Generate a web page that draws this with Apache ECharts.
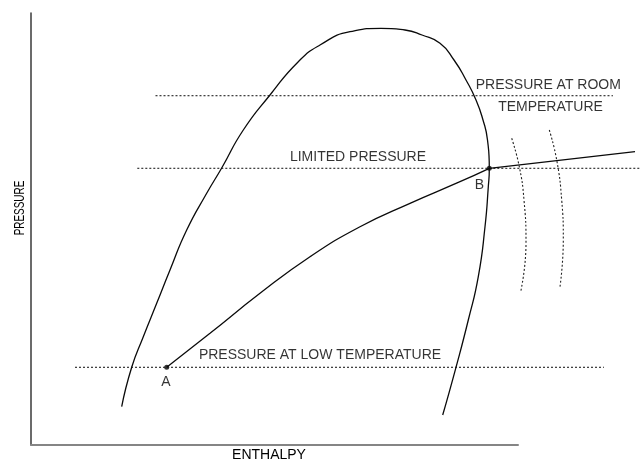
<!DOCTYPE html>
<html>
<head>
<meta charset="utf-8">
<style>
  html, body { margin: 0; padding: 0; background: #fff; }
  #chart { width: 641px; height: 460px; }
</style>
<script src="https://cdn.jsdelivr.net/npm/echarts@6/dist/echarts.min.js"></script>
</head>
<body>
<div id="chart"></div>
<script>
// Schematic pressure–enthalpy diagram (arbitrary units: enthalpy 0..487 on the
// drawn axis, curves continue to 610; pressure 0..432)

// Saturation dome
const domeCurve = [
  [90.7, 38.3], [100.7, 77.7], [112.3, 108.3], [125.7, 141.7], [139, 175],
  [155.7, 215], [175.7, 251.7], [190.7, 277], [212.3, 315], [239, 350],
  [267.3, 383.3], [289, 400], [319, 413.3], [350, 416.7], [374, 415],
  [391, 410], [409, 401.7], [423, 385], [435, 365], [445, 345],
  [452, 325], [456.5, 305], [458.3, 276.7], [457.3, 258.3], [454, 218.3],
  [447.3, 168.3], [437.3, 125], [425, 77.7], [411.7, 30]
];

// Process path from A (low pressure) up to B (limited pressure)
const pathAB = [
  [135.7, 77.7], [179, 111.7], [229, 151.7], [279, 188.3],
  [329, 218.3], [379, 241.7], [429, 263.3], [458.3, 276.7]
];
// Continuation beyond B into the superheated region
const pathBeyondB = [[458.3, 276.7], [604, 293.3]];

// Constant-temperature arcs to the right of the dome
const arcOne = [[480.7, 306.7], [488.3, 278.3], [493, 245], [495, 201.7], [489.7, 153.3]];
const arcTwo = [[518.3, 315], [525.7, 285], [530.7, 245], [532.3, 205], [529, 158.3]];

// Pressure levels: [pressure, enthalpy start, enthalpy end]
const levelRoom = [349.3, 124.5, 582];
const levelLimited = [276.7, 106.3, 610];
const levelLow = [77.7, 44, 573];

// Marked states
const pointNames = ['A', 'B'];
const pointValues = [[135.7, 77.7], [458.3, 276.7]];

// Annotations: text and the data point each is centred on
const noteTexts = ['PRESSURE AT ROOM', 'TEMPERATURE', 'LIMITED PRESSURE', 'PRESSURE AT LOW TEMPERATURE', 'A', 'B'];
const noteAnchors = [[517.3, 360], [519.5, 338.3], [327, 288], [289, 90], [135, 63.3], [448.3, 260]];

const FONT = '"Liberation Sans", Arial, Helvetica, sans-serif';
const INK = '#000000';

function curve(data, smooth, dashed) {
  return {
    type: 'line',
    xAxisIndex: 1,
    yAxisIndex: 1,
    data: data,
    smooth: smooth,
    showSymbol: false,
    clip: false,
    silent: true,
    lineStyle: dashed
      ? { color: '#222', width: 1.1, type: [2, 2] }
      : { color: '#0a0a0a', width: 1.3 }
  };
}

function level(l) {
  return curve([[l[1], l[0]], [l[2], l[0]]], false, true);
}

const hiddenAxis = {
  type: 'value', gridIndex: 1, show: false,
  axisLine: { show: false }, axisTick: { show: false },
  axisLabel: { show: false }, splitLine: { show: false }
};

const chart = echarts.init(document.getElementById('chart'), null, { renderer: 'canvas' });

chart.setOption({
  animation: false,
  backgroundColor: '#ffffff',
  grid: [
    // frame carrying the two drawn axes
    { left: 31, top: 13, width: 487, height: 432, containLabel: false, outerBoundsMode: 'none' },
    // plotting area, same scale, extending to the right edge
    { left: 31, top: 13, width: 610, height: 432, containLabel: false, outerBoundsMode: 'none' }
  ],
  xAxis: [
    {
      type: 'value', gridIndex: 0, min: 0, max: 487,
      name: 'ENTHALPY', nameLocation: 'middle', nameGap: 3,
      nameTextStyle: { color: INK, fontFamily: FONT, fontSize: 14, verticalAlign: 'top', padding: [0, 11, 0, 0] },
      axisLine: { show: true, lineStyle: { color: '#858585', width: 2 } },
      axisTick: { show: false }, axisLabel: { show: false }, splitLine: { show: false }
    },
    Object.assign({}, hiddenAxis, { min: 0, max: 610 })
  ],
  yAxis: [
    {
      type: 'value', gridIndex: 0, min: 0, max: 432,
      axisLine: { show: true, lineStyle: { color: '#3a3a3a', width: 1.5 } },
      axisTick: { show: false }, axisLabel: { show: false }, splitLine: { show: false }
    },
    Object.assign({}, hiddenAxis, { min: 0, max: 432 })
  ],
  graphic: [{
    type: 'text',
    x: 20, y: 208,
    rotation: Math.PI / 2,
    scaleX: 0.66,
    style: {
      text: 'PRESSURE', fill: INK,
      fontFamily: FONT, fontSize: 15,
      align: 'center', verticalAlign: 'middle'
    }
  }],
  series: [
    level(levelRoom),
    level(levelLimited),
    level(levelLow),
    curve(domeCurve, 0.55, false),
    curve(pathAB, 0.5, false),
    curve(pathBeyondB, false, false),
    curve(arcOne, 0.5, true),
    curve(arcTwo, 0.5, true),
    {
      type: 'scatter',
      xAxisIndex: 1, yAxisIndex: 1,
      silent: true,
      symbol: 'circle',
      symbolSize: 5,
      itemStyle: { color: '#000' },
      data: pointNames.map((n, i) => ({ name: n, value: pointValues[i] }))
    },
    {
      type: 'scatter',
      xAxisIndex: 1, yAxisIndex: 1,
      silent: true,
      symbolSize: 0,
      data: noteTexts.map((t, i) => ({ name: t, value: noteAnchors[i] })),
      label: {
        show: true,
        position: 'inside',
        formatter: p => p.name,
        color: INK,
        fontFamily: FONT,
        fontSize: 14
      }
    }
  ]
});
</script>
</body>
</html>
